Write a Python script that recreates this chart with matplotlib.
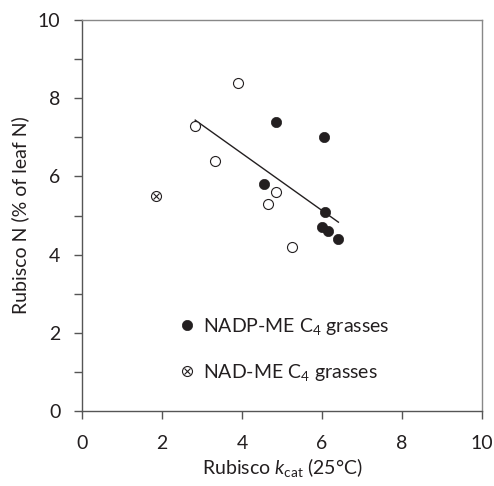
import numpy as np
import matplotlib.pyplot as plt
from matplotlib.legend_handler import HandlerTuple

plt.rcParams["font.family"] = "Lato"
plt.rcParams["mathtext.fontset"] = "custom"
plt.rcParams["mathtext.rm"] = "Lato"
plt.rcParams["mathtext.it"] = "Lato:italic"

# NADP-ME (filled)
nadp_x = [4.85, 6.04, 4.54, 6.08, 6.00, 6.15, 6.39]
nadp_y = [7.40, 7.00, 5.80, 5.10, 4.70, 4.60, 4.40]
# NAD-ME (open)
nad_x = [3.89, 2.83, 3.33, 4.85, 4.66, 5.24]
nad_y = [8.40, 7.30, 6.40, 5.60, 5.30, 4.20]
# crossed point
cross_x = [1.85]
cross_y = [5.50]
# regression line ends
fit_x = [2.83, 6.41]
fit_y = [7.44, 4.83]

ink = "#231f20"

fig = plt.figure(figsize=(4.94, 4.86), dpi=100)
ax = fig.add_axes([0.166, 0.1543, 0.8097, 0.8045])

ax.plot(fit_x, fit_y, color=ink, lw=1.0, zorder=2)
ax.plot(nad_x, nad_y, "o", ms=7.2, mfc="white", mec=ink, mew=0.8, zorder=3)
h_fill, = ax.plot(nadp_x, nadp_y, "o", ms=7.4, mfc=ink, mec=ink, mew=0.5, zorder=4)
h_c1, = ax.plot(cross_x, cross_y, "o", ms=7.2, mfc="white", mec=ink, mew=0.8, zorder=3)
h_c2, = ax.plot(cross_x, cross_y, "x", ms=5, mec=ink, mew=0.8, zorder=4)

ax.legend([h_fill, (h_c1, h_c2)],
          ["NADP-ME C$_4$ grasses", "NAD-ME C$_4$ grasses"],
          handler_map={tuple: HandlerTuple(ndivide=1)},
          loc="lower left", bbox_to_anchor=(0.195, 0.028), frameon=False,
          fontsize=14, labelspacing=1.25, handletextpad=0.3, handlelength=1.0,
          labelcolor=ink)

ax.set_xlim(0, 10)
ax.set_ylim(0, 10)
ax.set_xticks(np.arange(0, 11, 2))
ax.set_yticks(np.arange(0, 11, 2))
ax.set_yticks(np.arange(1, 10, 2), minor=True)
ax.tick_params(axis="both", which="both", direction="out", length=5.5, width=1,
               color="#555555", labelsize=14, labelcolor=ink)
ax.tick_params(axis="x", pad=12)
ax.tick_params(axis="y", which="both", pad=10)
for s in ax.spines.values():
    s.set_color("#555555")
    s.set_linewidth(1.0)
ax.spines["top"].set_color("#888888")
ax.spines["right"].set_color("#888888")

ax.set_xlabel("Rubisco $k_{\\mathrm{cat}}$ (25°C)", fontsize=14, color=ink, labelpad=3)
ax.set_ylabel("Rubisco N (% of leaf N)", fontsize=14, color=ink, labelpad=6)

fig.savefig("out.png", dpi=100)
